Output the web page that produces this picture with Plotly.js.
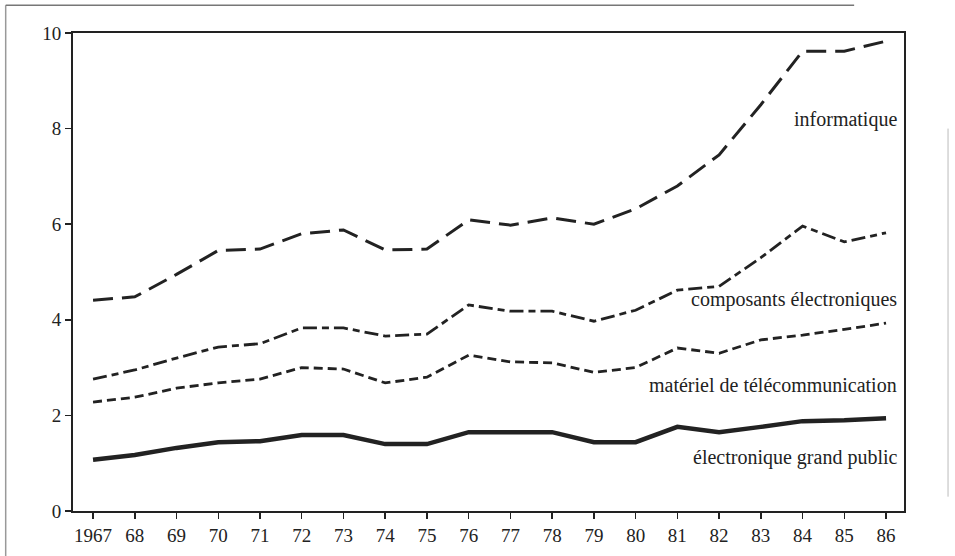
<!DOCTYPE html>
<html>
<head>
<meta charset="utf-8">
<script src="https://cdn.plot.ly/plotly-3.0.1.min.js"></script>
<style>html,body{margin:0;padding:0;background:#fff;}#chart{width:955px;height:556px;}</style>
</head>
<body>
<div id="chart"></div>
<script>
const years = [1967,1968,1969,1970,1971,1972,1973,1974,1975,1976,1977,1978,1979,1980,1981,1982,1983,1984,1985,1986];
const tickLabels = ["1967","68","69","70","71","72","73","74","75","76","77","78","79","80","81","82","83","84","85","86"];
const informatique = [4.41,4.48,4.95,5.45,5.48,5.8,5.88,5.46,5.48,6.09,5.98,6.13,6.0,6.32,6.8,7.45,8.5,9.62,9.62,9.83];
const composants = [2.76,2.95,3.2,3.43,3.5,3.83,3.83,3.66,3.7,4.31,4.18,4.18,3.97,4.2,4.62,4.7,5.3,5.96,5.63,5.82];
const telecom = [2.28,2.38,2.57,2.68,2.76,3.0,2.97,2.68,2.8,3.26,3.12,3.1,2.9,3.0,3.41,3.3,3.58,3.68,3.8,3.93];
const grandPublic = [1.07,1.17,1.32,1.44,1.46,1.59,1.59,1.4,1.4,1.65,1.65,1.65,1.44,1.44,1.76,1.65,1.76,1.88,1.9,1.94];
const seriesNames = ["informatique","composants électroniques","matériel de télécommunication","électronique grand public"];

const ink = '#222';
const traces = [
  {x: years, y: informatique, name: seriesNames[0], mode: 'lines', line: {color: ink, width: 3, dash: '20px,9px'}},
  {x: years, y: composants, name: seriesNames[1], mode: 'lines', line: {color: ink, width: 2.8, dash: '14px,5px,7px,5px'}},
  {x: years, y: telecom, name: seriesNames[2], mode: 'lines', line: {color: ink, width: 2.8, dash: '9px,5px'}},
  {x: years, y: grandPublic, name: seriesNames[3], mode: 'lines', line: {color: ink, width: 4.5}}
];

const labelFont = {family: 'Liberation Serif, Times New Roman, serif', size: 20, color: ink};
const annY = [8.2, 4.42, 2.63, 1.11];
const annotations = seriesNames.map((t, i) => ({
  x: 1986.3, y: annY[i], xref: 'x', yref: 'y', text: t, showarrow: false,
  xanchor: 'right', yanchor: 'middle', font: labelFont
}));

const layout = {
  width: 955, height: 556,
  margin: {l: 73, r: 51, t: 33, b: 45},
  paper_bgcolor: '#fff', plot_bgcolor: '#fff',
  showlegend: false,
  font: {family: 'Liberation Serif, Times New Roman, serif', color: ink},
  xaxis: {
    range: [1966.52, 1986.43], tickmode: 'array', tickvals: years, ticktext: tickLabels,
    ticks: 'outside', ticklen: 6, tickwidth: 1.5, tickcolor: ink,
    showline: true, linecolor: ink, linewidth: 2, mirror: true,
    showgrid: false, zeroline: false, tickfont: {size: 19, color: ink}
  },
  yaxis: {
    range: [0, 10], tickvals: [0,2,4,6,8,10],
    ticks: 'outside', ticklen: 6, tickwidth: 1.5, tickcolor: ink,
    showline: true, linecolor: ink, linewidth: 2, mirror: true,
    showgrid: false, zeroline: false, tickfont: {size: 19, color: ink}
  },
  annotations: annotations,
  shapes: [
    {type: 'line', xref: 'paper', yref: 'paper', x0: -0.081, x1: -0.081, y0: -0.095, y1: 1.058, line: {color: '#999', width: 1.5}},
    {type: 'line', xref: 'paper', yref: 'paper', x0: -0.081, x1: 0.94, y0: 1.058, y1: 1.058, line: {color: '#777', width: 1.5}},
    {type: 'line', xref: 'paper', yref: 'paper', x0: 1.053, x1: 1.053, y0: 0.03, y1: 0.8, line: {color: '#bbb', width: 1}}
  ]
};

Plotly.newPlot('chart', traces, layout, {staticPlot: true, displayModeBar: false});
</script>
</body>
</html>
